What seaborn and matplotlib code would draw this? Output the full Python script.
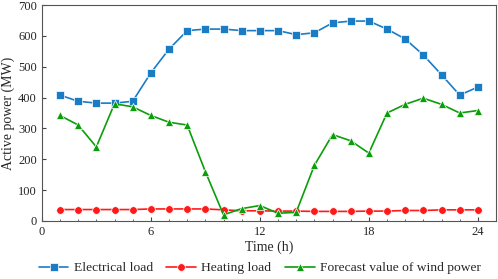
import numpy as np
import pandas as pd
import matplotlib
matplotlib.use("Agg")
import matplotlib.pyplot as plt
import seaborn as sns
from matplotlib.ticker import MultipleLocator

hours = list(range(1, 25))
electrical = [408, 388, 382, 382, 388, 480, 557, 617, 622, 622, 617, 617,
              617, 604, 610, 642, 648, 648, 622, 590, 538, 474, 408, 434]
heating = [37, 37, 37, 37, 37, 39, 39, 39, 39, 36, 33, 33,
           32, 32, 31, 31, 31, 32, 32, 34, 34, 36, 36, 36]
wind = [342, 311, 240, 380, 370, 342, 320, 311, 160, 20, 40, 50,
        25, 28, 180, 280, 260, 220, 350, 378, 398, 378, 350, 358]

df = pd.DataFrame({"Time": hours * 3,
                   "Power": electrical + heating + wind,
                   "Series": ["Electrical load"] * 24 + ["Heating load"] * 24
                             + ["Forecast value of wind power"] * 24})

sns.set_style("ticks")
plt.rcParams["font.family"] = ["Liberation Serif", "DejaVu Serif"]

fig = plt.figure(figsize=(4.98, 2.79), dpi=100)
ax = fig.add_axes([0.084, 0.208, 0.912, 0.774])

palette = {"Electrical load": "#1a7cc4", "Heating load": "#ff1a1a",
           "Forecast value of wind power": "#0a9e0a"}
markers = {"Electrical load": "s", "Heating load": "o",
           "Forecast value of wind power": "^"}
sns.lineplot(data=df, x="Time", y="Power", hue="Series", style="Series",
             palette=palette, markers=markers, dashes=False, markersize=5.5,
             markeredgewidth=0.5, linewidth=1.2, ax=ax)

ax.set_xlim(0, 25)
ax.set_ylim(0, 700)
ax.xaxis.set_major_locator(MultipleLocator(6))
ax.xaxis.set_minor_locator(MultipleLocator(1))
ax.yaxis.set_major_locator(MultipleLocator(100))
ax.tick_params(which="both", direction="in", labelsize=9, color="#444444")
ax.tick_params(which="major", length=3)
ax.tick_params(which="minor", length=1.5)
for s in ax.spines.values():
    s.set_color("#555555")
    s.set_linewidth(0.8)
ax.set_xlabel("Time (h)", fontsize=10, labelpad=2)
ax.set_ylabel("Active power (MW)", fontsize=10, labelpad=2)

ax.legend(loc="upper center", bbox_to_anchor=(0.48, -0.165), ncol=3,
          frameon=False, fontsize=9.7, handlelength=2.2, columnspacing=1.0,
          handletextpad=0.4, borderaxespad=0)

fig.savefig("out.png", dpi=100)
